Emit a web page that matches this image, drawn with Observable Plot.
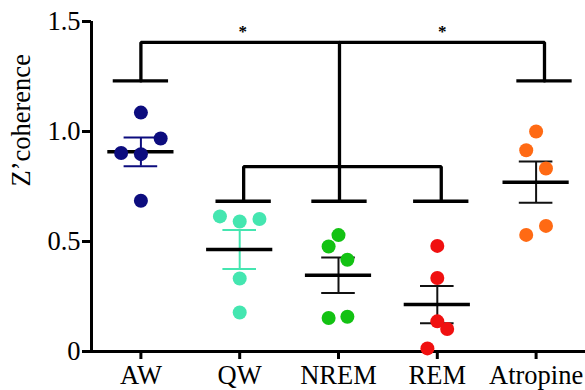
<!DOCTYPE html>
<html>
<head>
<meta charset="utf-8">
<script src="https://cdn.jsdelivr.net/npm/d3@7"></script>
<script src="https://cdn.jsdelivr.net/npm/@observablehq/plot@0.6"></script>
<style>
  html, body { margin: 0; padding: 0; background: #fff; }
  #chart svg { display: block; }
</style>
</head>
<body>
<div id="chart"></div>
<script>
// ---- data ----
const groups = ["AW", "QW", "NREM", "REM", "Atropine"];
const awValues       = [1.086, 0.968, 0.902, 0.897, 0.685];
const qwValues       = [0.614, 0.591, 0.602, 0.332, 0.177];
const nremValues     = [0.529, 0.477, 0.417, 0.152, 0.158];
const remValues      = [0.480, 0.334, 0.137, 0.102, 0.014];
const atropineValues = [1.000, 0.915, 0.832, 0.571, 0.530];
// horizontal scatter offsets of the dots (in category units)
const awJitter       = [0, 0.2, -0.2, 0, 0];
const qwJitter       = [-0.2, 0, 0.2, 0, 0];
const nremJitter     = [0, -0.1, 0.09, -0.1, 0.09];
const remJitter      = [0, 0, 0, 0.1, -0.1];
const atropineJitter = [0, -0.1, 0.1, 0.1, -0.1];
const colors    = ["#0c0c7e", "#44e6b0", "#13c213", "#f01010", "#ff6a14"];
const errColors = ["#0c0c7e", "#44e6b0", "#111111", "#111111", "#111111"];
const yTicks = [0, 0.5, 1.0, 1.5];
const yTickLabels = ["0", "0.5", "1.0", "1.5"];
const yLabel = "Z\u2019coherence";
// significance brackets (data units)
const bracketX = [0, 1.04, 2.01, 3.04, 4.085];
const capY = [1.23, 0.683, 0.683, 0.683, 1.23];
const topY = 1.405, midY = 0.84;
const stars = [{x: 1.03, y: 1.455, t: "*"}, {x: 3.05, y: 1.455, t: "*"}];

const values = [awValues, qwValues, nremValues, remValues, atropineValues];
const jitters = [awJitter, qwJitter, nremJitter, remJitter, atropineJitter];

const points = values.flatMap((vals, i) => vals.map((v, j) => ({i, x: i + jitters[i][j], v, c: colors[i]})));
const stats = values.map((vals, i) => {
  const m = d3.mean(vals);
  const sem = d3.deviation(vals) / Math.sqrt(vals.length);
  return {i, m, lo: m - sem, hi: m + sem, c: errColors[i]};
});

const caps = bracketX.map((x, i) => ({x1: x - 0.28, x2: x + 0.28, y: capY[i]}));
const paths = [
  [[bracketX[0], capY[0]], [bracketX[0], topY], [bracketX[4], topY], [bracketX[4], capY[4]]],
  [[bracketX[1], capY[1]], [bracketX[1], midY], [bracketX[3], midY], [bracketX[3], capY[3]]],
  [[bracketX[2], capY[2]], [bracketX[2], topY]]
].flatMap((p, k) => p.map(([x, y]) => ({k, x, y})));

const FONT = "'Liberation Serif', 'Times New Roman', serif";

const chart = Plot.plot({
  width: 585,
  height: 390,
  marginLeft: 91,
  marginRight: 0,
  marginTop: 21,
  marginBottom: 39,
  style: {fontFamily: FONT, background: "#fff", color: "#000"},
  x: {domain: [-0.5, 4.5], axis: null},
  y: {domain: [0, 1.5], axis: null},
  marks: [
    // axes
    Plot.ruleY([0], {x1: -0.5, x2: 4.5, insetLeft: -9, stroke: "#000", strokeWidth: 3}),
    Plot.ruleX([-0.5], {y1: 0, y2: 1.5, stroke: "#000", strokeWidth: 3}),
    Plot.axisY({ticks: yTicks, tickFormat: (d, k) => yTickLabels[k], tickSize: 9, tickPadding: 2,
      fontSize: 26.5, strokeWidth: 3, label: null}),
    Plot.axisX({ticks: d3.range(groups.length), tickFormat: d => groups[d], tickSize: 8, tickPadding: 6,
      fontSize: 26.5, strokeWidth: 3, label: null}),
    Plot.text([yLabel], {frameAnchor: "left", dx: -70, rotate: -90, fontSize: 26.5, fill: "#000"}),
    // brackets
    Plot.line(paths, {x: "x", y: "y", z: "k", stroke: "#000", strokeWidth: 3.3, strokeLinejoin: "miter", curve: "linear"}),
    Plot.ruleY(caps, {x1: "x1", x2: "x2", y: "y", stroke: "#000", strokeWidth: 3.3}),
    Plot.text(stars, {x: "x", y: "y", text: "t", fontSize: 17, fontWeight: "bold", fill: "#000"}),
    // mean and SEM
    Plot.ruleX(stats, {x: "i", y1: "lo", y2: "hi", stroke: "c", strokeWidth: 2}),
    Plot.ruleY(stats, {x1: d => d.i - 0.17, x2: d => d.i + 0.17, y: "lo", stroke: "c", strokeWidth: 2}),
    Plot.ruleY(stats, {x1: d => d.i - 0.17, x2: d => d.i + 0.17, y: "hi", stroke: "c", strokeWidth: 2}),
    Plot.ruleY(stats, {x1: d => d.i - 0.335, x2: d => d.i + 0.335, y: "m", stroke: "#000", strokeWidth: 3.5}),
    // individual points
    Plot.dot(points, {x: "x", y: "v", r: 7, fill: "c", stroke: "none"})
  ]
});
document.getElementById("chart").appendChild(chart);
</script>
</body>
</html>
